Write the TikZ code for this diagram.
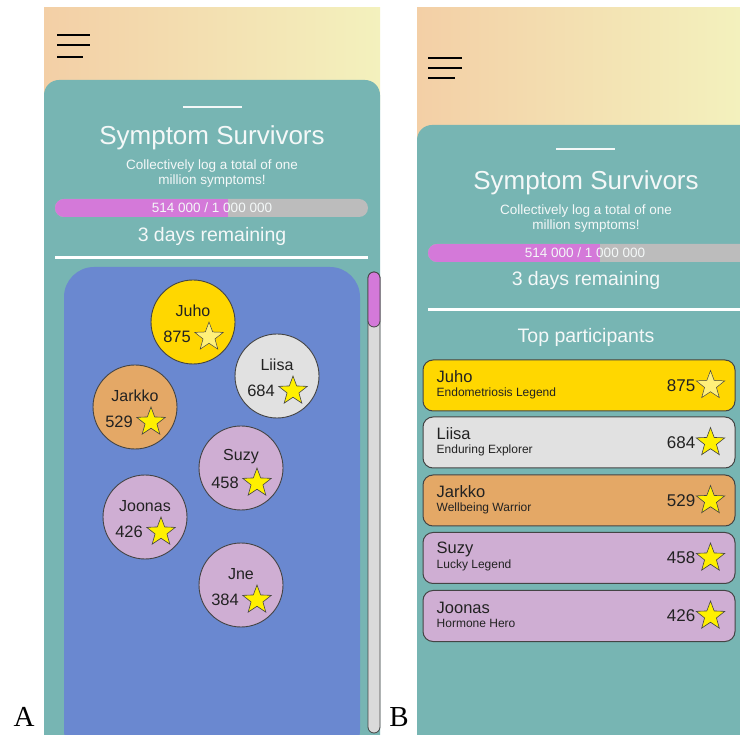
\documentclass[tikz,border=0pt]{standalone}
\usepackage{fontspec}
\setmainfont{Liberation Serif}
\setsansfont{Liberation Sans}
\usetikzlibrary{shapes.geometric,positioning}

\definecolor{peach}{HTML}{F3CFA6}
\definecolor{paleyellow}{HTML}{F3F1BD}
\definecolor{cardteal}{HTML}{77B5B3}
\definecolor{poolblue}{HTML}{6A88D0}
\definecolor{barpink}{HTML}{D479D9}
\definecolor{bargray}{HTML}{BCBCBC}
\definecolor{scrollgray}{HTML}{DADADA}
\definecolor{gold}{HTML}{FFD700}
\definecolor{silver}{HTML}{E1E1E1}
\definecolor{bronze}{HTML}{E4A866}
\definecolor{lilac}{HTML}{CFAED3}
\definecolor{staryellow}{HTML}{FFF000}
\definecolor{starpale}{HTML}{FFF07A}
\definecolor{edgegray}{HTML}{444444}
\definecolor{inktext}{HTML}{222222}
\definecolor{softwhite}{HTML}{F4F8F8}

\tikzset{
  headtitle/.style={text=softwhite,font=\sffamily\fontsize{26}{30}\selectfont},
  headsub/.style={text=softwhite,font=\sffamily\fontsize{13.5}{15}\selectfont,align=center},
  bartext/.style={text=softwhite,font=\sffamily\fontsize{13.5}{15}\selectfont},
  remaining/.style={text=softwhite,font=\sffamily\fontsize{19.5}{22}\selectfont},
  bubble/.style={circle,draw=edgegray,line width=0.9pt,minimum size=84pt,inner sep=0pt},
  bubblename/.style={text=inktext,font=\sffamily\fontsize{16}{18}\selectfont,inner sep=0pt},
  bubblescore/.style={text=inktext,font=\sffamily\fontsize{16.5}{18}\selectfont,inner sep=0pt,anchor=east},
  starmark/.style={star,star points=5,star point ratio=2.4,draw=edgegray,line width=0.6pt,
    fill=staryellow,minimum size=30pt,inner sep=0pt},
  palestar/.style={starmark,fill=starpale,line width=0.5pt},
  rowbox/.style={rectangle,rounded corners=10pt,draw=edgegray,line width=1pt,
    minimum width=312pt,minimum height=51pt,inner sep=0pt},
  rowname/.style={text=inktext,font=\sffamily\fontsize{16.5}{18}\selectfont,inner sep=0pt,anchor=west},
  rowtitle/.style={text=inktext,font=\sffamily\fontsize{12}{14}\selectfont,inner sep=0pt,anchor=west},
  rowscore/.style={text=inktext,font=\sffamily\fontsize{17}{19}\selectfont,inner sep=0pt,anchor=east},
  panellabel/.style={text=black,font=\rmfamily\fontsize{29}{31}\selectfont,inner sep=0pt,anchor=base}
}

\begin{document}
\begin{tikzpicture}[x=1pt,y=-1pt]
\useasboundingbox[fill=white] (0,0) rectangle (740,735);
\clip (0,0) rectangle (740,735);

% ---------- panel A ----------
\shade[left color=peach,right color=paleyellow] (44,8) rectangle (380,110);
\draw[line width=2.3pt] (57,35) -- (90,35);
\draw[line width=2.3pt] (57,45) -- (90,45);
\draw[line width=2.3pt] (57,57) -- (83,57);

\fill[cardteal,rounded corners=15pt] (44,760) rectangle (380,80);
\draw[softwhite,line width=2pt] (183,107) -- (242,107);
\node[headtitle] (titleA) at (212,138) {Symptom Survivors};
\node[headsub] (subA) at (212,174) {Collectively log a total of one\\million symptoms!};

\fill[bargray,rounded corners=9pt] (55,199) rectangle (368,217);
\begin{scope}
  \clip[rounded corners=9pt] (55,199) rectangle (368,217);
  \fill[barpink] (55,199) rectangle (228,217);
\end{scope}
\node[bartext] (countA) at (212,208) {514 000 / 1 000 000};
\node[remaining] (daysA) at (212,236) {3 days remaining};
\draw[white,line width=3pt] (55,258) -- (368,258);

\fill[poolblue,rounded corners=30pt] (64,760) rectangle (360,267);

% scroll bar
\draw[edgegray,fill=scrollgray,rounded corners=6pt,line width=0.8pt] (368,272) rectangle (380,733);
\draw[edgegray,fill=barpink,rounded corners=6pt,line width=0.8pt] (368,272) rectangle (380,327);

% bubbles
\node[bubble,fill=gold] (juho) at (193,322) {};
\node[bubblename] at ([yshift=11pt]juho.center) {Juho};
\node[bubblescore] at ([xshift=-2pt,yshift=-15pt]juho.center) {875};
\node[palestar] at ([xshift=16pt,yshift=-15pt]juho.center) {};

\node[bubble,fill=silver] (liisa) at (277,376) {};
\node[bubblename] at ([yshift=11pt]liisa.center) {Liisa};
\node[bubblescore] at ([xshift=-2pt,yshift=-15pt]liisa.center) {684};
\node[starmark] at ([xshift=16pt,yshift=-15pt]liisa.center) {};

\node[bubble,fill=bronze] (jarkko) at (135,407) {};
\node[bubblename] at ([yshift=11pt]jarkko.center) {Jarkko};
\node[bubblescore] at ([xshift=-2pt,yshift=-15pt]jarkko.center) {529};
\node[starmark] at ([xshift=16pt,yshift=-15pt]jarkko.center) {};

\node[bubble,fill=lilac] (suzy) at (241,468) {};
\node[bubblename] at ([yshift=11pt]suzy.center) {Suzy};
\node[bubblescore] at ([xshift=-2pt,yshift=-15pt]suzy.center) {458};
\node[starmark] at ([xshift=16pt,yshift=-15pt]suzy.center) {};

\node[bubble,fill=lilac] (joonas) at (145,517) {};
\node[bubblename] at ([yshift=11pt]joonas.center) {Joonas};
\node[bubblescore] at ([xshift=-2pt,yshift=-15pt]joonas.center) {426};
\node[starmark] at ([xshift=16pt,yshift=-15pt]joonas.center) {};

\node[bubble,fill=lilac] (jne) at (241,585) {};
\node[bubblename] at ([yshift=11pt]jne.center) {Jne};
\node[bubblescore] at ([xshift=-2pt,yshift=-15pt]jne.center) {384};
\node[starmark] at ([xshift=16pt,yshift=-15pt]jne.center) {};

% ---------- panel B ----------
\shade[left color=peach,right color=paleyellow] (417,8) rectangle (740,150);
\draw[line width=2.3pt] (428,58) -- (462,58);
\draw[line width=2.3pt] (428,68) -- (462,68);
\draw[line width=2.3pt] (428,78) -- (455,78);

\fill[cardteal,rounded corners=15pt] (417,760) rectangle (770,125);
\draw[softwhite,line width=2pt] (556,149) -- (615,149);
\node[headtitle] (titleB) at (586,183) {Symptom Survivors};
\node[headsub] (subB) at (586,219) {Collectively log a total of one\\million symptoms!};

\fill[bargray,rounded corners=9pt] (428,244) rectangle (770,262);
\begin{scope}
  \clip[rounded corners=9pt] (428,244) rectangle (770,262);
  \fill[barpink] (428,244) rectangle (600,262);
\end{scope}
\node[bartext] (countB) at (585,253) {514 000 / 1 000 000};
\node[remaining] (daysB) at (586,280) {3 days remaining};
\draw[white,line width=3pt] (428,310) -- (745,310);
\node[remaining] (topB) at (586,337) {Top participants};

% leaderboard rows
\node[rowbox,fill=gold] (rjuho) at (579,385.5) {};
\node[rowname] at ([xshift=14pt,yshift=8.5pt]rjuho.west) {Juho};
\node[rowtitle] at ([xshift=14pt,yshift=-7.5pt]rjuho.west) {Endometriosis Legend};
\node[rowscore] at ([xshift=-40pt]rjuho.east) {875};
\node[palestar] at ([xshift=-25pt]rjuho.east) {};

\node[rowbox,fill=silver] (rliisa) at (579,442.5) {};
\node[rowname] at ([xshift=14pt,yshift=8.5pt]rliisa.west) {Liisa};
\node[rowtitle] at ([xshift=14pt,yshift=-7.5pt]rliisa.west) {Enduring Explorer};
\node[rowscore] at ([xshift=-40pt]rliisa.east) {684};
\node[starmark] at ([xshift=-25pt]rliisa.east) {};

\node[rowbox,fill=bronze] (rjarkko) at (579,500.5) {};
\node[rowname] at ([xshift=14pt,yshift=8.5pt]rjarkko.west) {Jarkko};
\node[rowtitle] at ([xshift=14pt,yshift=-7.5pt]rjarkko.west) {Wellbeing Warrior};
\node[rowscore] at ([xshift=-40pt]rjarkko.east) {529};
\node[starmark] at ([xshift=-25pt]rjarkko.east) {};

\node[rowbox,fill=lilac] (rsuzy) at (579,558) {};
\node[rowname] at ([xshift=14pt,yshift=8.5pt]rsuzy.west) {Suzy};
\node[rowtitle] at ([xshift=14pt,yshift=-7.5pt]rsuzy.west) {Lucky Legend};
\node[rowscore] at ([xshift=-40pt]rsuzy.east) {458};
\node[starmark] at ([xshift=-25pt]rsuzy.east) {};

\node[rowbox,fill=lilac] (rjoonas) at (579,616) {};
\node[rowname] at ([xshift=14pt,yshift=8.5pt]rjoonas.west) {Joonas};
\node[rowtitle] at ([xshift=14pt,yshift=-7.5pt]rjoonas.west) {Hormone Hero};
\node[rowscore] at ([xshift=-40pt]rjoonas.east) {426};
\node[starmark] at ([xshift=-25pt]rjoonas.east) {};

% panel labels
\node[panellabel] (labelA) at (24,726) {A};
\node[panellabel] (labelB) at (399,726) {B};
\end{tikzpicture}
\end{document}
